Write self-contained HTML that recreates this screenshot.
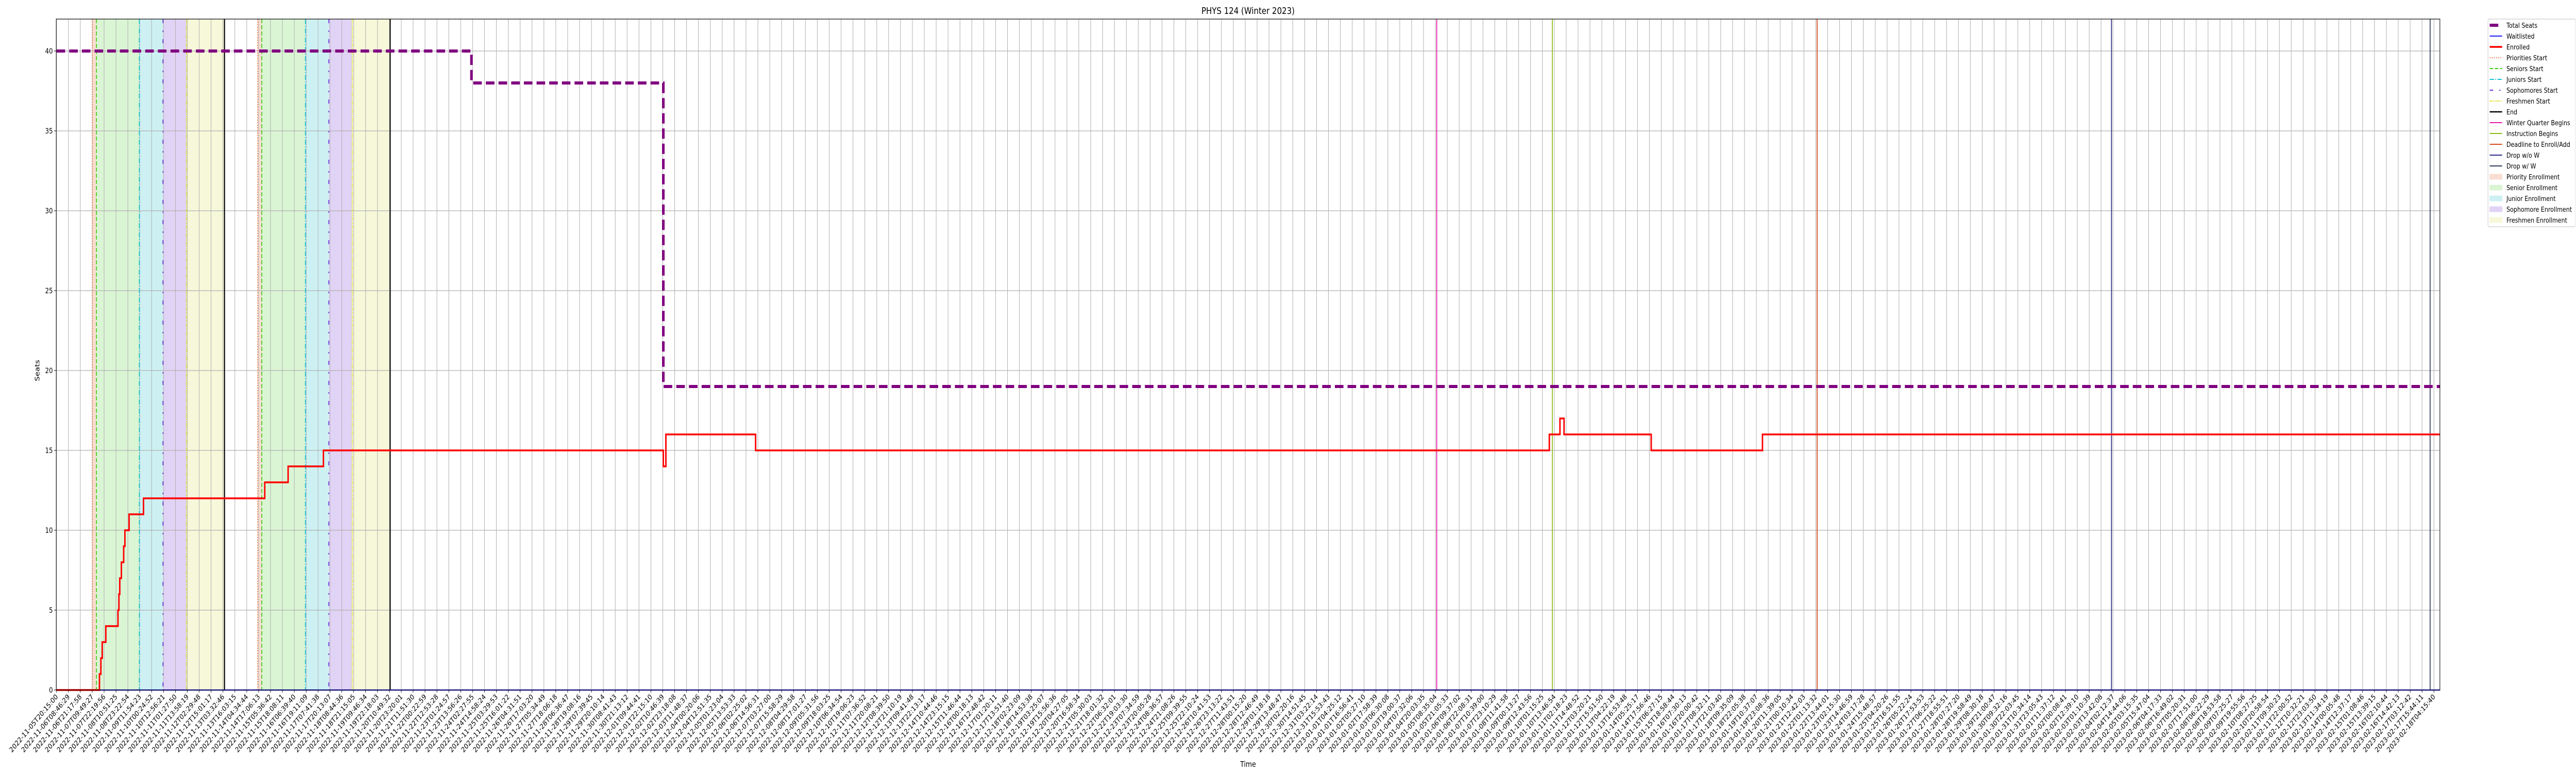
<!DOCTYPE html>
<html><head><meta charset="utf-8"><style>
html,body{margin:0;padding:0;background:#fff;width:100%;height:100%;overflow:hidden}
#chart{display:block;width:100vw;height:100vh;overflow:hidden}
svg text{font-family:"DejaVu Sans","Liberation Sans",sans-serif;fill:#000}
</style></head><body>
<svg id="chart" viewBox="0 0 6000 1500" preserveAspectRatio="none" xmlns="http://www.w3.org/2000/svg">
<defs><clipPath id="frameclip"><rect x="0" y="0" width="5999" height="1500"/></clipPath></defs>
<text x="2907" y="27" font-size="18" text-anchor="middle">PHYS 124 (Winter 2023)</text>
<text x="2907" y="1488" font-size="15" text-anchor="middle">Time</text>
<text x="0" y="0" font-size="15" text-anchor="middle" transform="translate(92,719) rotate(-90)">Seats</text>
<g id="bands"></g><g id="grid"></g><g id="events"></g><g id="series"></g><g id="axes"></g><g id="legend" clip-path="url(#frameclip)"></g>
</svg>
<script>
// ---- data (times in hours since 2022-11-05T20:15) ----
const startTime = Date.UTC(2022,10,5,20,15,0);
const tickStepHours = 12.52;
const tickCount = 201;
const yTicks = [0,5,10,15,20,25,30,35,40];
const enrolledTimes = [0,45.2,46.7,48.1,51.9,64.7,65.7,66.6,68.3,70.7,72.0,76.4,91.6,219.3,243.9,281.1,639.1,641.8,736.3,1572.3,1583.5,1587.8,1679.6,1796.8];
const enrolledValues = [0,1,2,3,4,5,6,7,8,9,10,11,12,13,14,15,14,16,15,16,17,16,15,16];
const seatTimes = [0,437.0,639.1];
const seatValues = [40,38,19];
const waitTimes = [0];
const waitValues = [0];
const prioritiesStart = [37.8,211.8];
const seniorsStart = [42.0,216.2];
const juniorsStart = [87.2,262.1];
const sophomoresStart = [112.1,286.8];
const freshmenStart = [137.0,311.4];
const endTimes = [176.9,351.4];
const quarterEvents = [1453.7,1575.5,1854.4,2164.4,2500.0];
const quarterNames = ['winter-quarter-begins','instruction-begins','deadline-to-enroll','drop-without-w','drop-with-w'];
const endHour = 2510.5;

// ---- scales ----
const X0=131.7, PXH=2.2114, L=131, R=5683, T=37, B=1339, YU=31.0;
const x = h => X0 + h*PXH;
const y = v => B - v*YU;
const NS='http://www.w3.org/2000/svg';
function mk(tag, parent, attrs){const e=document.createElementNS(NS,tag);for(const k in attrs)e.setAttribute(k,attrs[k]);document.getElementById(parent).appendChild(e);return e;}

// bands
const bandColors=['#f9ddd2','#daf5d4','#cdf1f3','#e1d3f5','#f6f8d9'];
const bandNames=['priority-enrollment-band','senior-enrollment-band','junior-enrollment-band','sophomore-enrollment-band','freshman-enrollment-band'];
const starts=[prioritiesStart,seniorsStart,juniorsStart,sophomoresStart,freshmenStart,endTimes];
for(let g=0;g<2;g++){for(let i=0;i<5;i++){
  const a=starts[i][g], b=starts[i+1][g];
  const r=mk('rect','bands',{x:x(a),y:T,width:x(b)-x(a),height:B-T,fill:bandColors[i]});
  
  
}}

// grid
for(let i=0;i<tickCount;i++){
  const px=x(i*tickStepHours);
  const l=mk('line','grid',{x1:px,x2:px,y1:T,y2:B,stroke:'#b0b0b0','stroke-width':1.2});
  
  
}
yTicks.forEach(v=>{
  const l=mk('line','grid',{x1:L,x2:R,y1:y(v),y2:y(v),stroke:'#b0b0b0','stroke-width':1.2});
  
  
});

// event lines
const evStyles=[
 {arr:prioritiesStart,c:'#ee7a3c',d:'2,3',w:2,n:'priorities-start-line'},
 {arr:seniorsStart,c:'#3ccc10',d:'8,4',w:2,n:'seniors-start-line'},
 {arr:juniorsStart,c:'#14c3d2',d:'10,3,2,3',w:2,n:'juniors-start-line'},
 {arr:sophomoresStart,c:'#6a2ee0',d:'8,14,3,14',w:2,n:'sophomores-start-line'},
 {arr:freshmenStart,c:'#e2e030',d:'6,2,2,2,2,2',w:2,n:'freshmen-start-line'},
 {arr:endTimes,c:'#000',d:'',w:2.5,n:'end-line'}];
evStyles.forEach(s=>s.arr.forEach(h=>{
  const l=mk('line','events',{x1:x(h),x2:x(h),y1:T,y2:B,stroke:s.c,'stroke-width':s.w,'stroke-dasharray':s.d});
  
  
}));
const qColors=['#ee1aa8','#8cbf10','#d84a1e','#2b2a86','#2f3d5c'];
quarterEvents.forEach((h,i)=>{
  const l=mk('line','events',{x1:x(h),x2:x(h),y1:T,y2:B,stroke:qColors[i],'stroke-width':2});
  
  
});

// step series
function stepPath(ts,vs){
  let d='M'+x(ts[0])+','+y(vs[0]);
  for(let i=1;i<ts.length;i++){d+=' H'+x(ts[i])+' V'+y(vs[i]);}
  d+=' H'+x(endHour);return d;
}
const wl=mk('path','series',{d:stepPath(waitTimes,waitValues),fill:'none',stroke:'#1a1aff','stroke-width':2.2});


const en=mk('path','series',{d:stepPath(enrolledTimes,enrolledValues),fill:'none',stroke:'#ff0000','stroke-width':3.4});


const st=mk('path','series',{d:stepPath(seatTimes,seatValues),fill:'none',stroke:'#800080','stroke-width':6,'stroke-dasharray':'20,9.5'});



// axes
const frame=mk('rect','axes',{x:L,y:T,width:R-L,height:B-T,fill:'none',stroke:'#000','stroke-width':1.2});


yTicks.forEach(v=>{
  const t=mk('line','axes',{x1:L-5,x2:L,y1:y(v),y2:y(v),stroke:'#000','stroke-width':1});
  
  
  const tx=mk('text','axes',{x:L-8,y:y(v)+5,'font-size':14,'text-anchor':'end'});
  tx.textContent=v;
  
  
});
const pad=n=>String(n).padStart(2,'0');
for(let i=0;i<tickCount;i++){
  const h=i*tickStepHours, px=x(h);
  const t=mk('line','axes',{x1:px,x2:px,y1:B,y2:B+5,stroke:'#000','stroke-width':1});
  
  
  const dt=new Date(startTime+h*3600000+(i*137%60)*1000);
  const s=dt.getUTCFullYear()+'-'+pad(dt.getUTCMonth()+1)+'-'+pad(dt.getUTCDate())+'T'+pad(dt.getUTCHours())+':'+pad(dt.getUTCMinutes())+':'+pad(dt.getUTCSeconds());
  const tx=mk('text','axes',{x:0,y:0,'font-size':14,'text-anchor':'end',transform:'translate('+(px+4)+','+(B+14)+') rotate(-45)'});
  tx.textContent=s;
  
  
}

// legend
const lg=mk('rect','legend',{x:5795,y:37,width:204,height:403,rx:3,fill:'#fff','fill-opacity':0.8,stroke:'#cccccc','stroke-width':1.2});


const legendLabels=['Total Seats','Waitlisted','Enrolled','Priorities Start','Seniors Start','Juniors Start','Sophomores Start','Freshmen Start','End','Winter Quarter Begins','Instruction Begins','Deadline to Enroll/Add','Drop w/o W','Drop w/ W','Priority Enrollment','Senior Enrollment','Junior Enrollment','Sophomore Enrollment','Freshmen Enrollment'];
const legendKinds=[
 ['#800080',6,'20,9'],['#1a1aff',2,''],['#ff0000',3.4,''],['#ee7a3c',2,'2,3'],['#3ccc10',2,'8,4'],['#14c3d2',2,'10,3,2,3'],['#6a2ee0',2,'8,14,3,14'],['#e2e030',2,'6,2,2,2,2,2'],['#000',2.5,''],
 ['#ee1aa8',2,''],['#8cbf10',2,''],['#d84a1e',2,''],['#2b2a86',2,''],['#2f3d5c',2,'']];
legendLabels.forEach((lab,i)=>{
  const yy=49+i*21;
  if(i<14){
    const k=legendKinds[i];
    const l=mk('line','legend',{x1:5799,x2:5828,y1:yy,y2:yy,stroke:k[0],'stroke-width':k[1],'stroke-dasharray':k[2]});
    
    
  } else {
    const r=mk('rect','legend',{x:5799,y:yy-5,width:29,height:10,fill:bandColors[i-14],stroke:bandColors[i-14]});
    
    
  }
  const t=mk('text','legend',{x:5838,y:yy+5,'font-size':13.3});
  t.textContent=lab;
  
  
});
</script>
</body></html>
